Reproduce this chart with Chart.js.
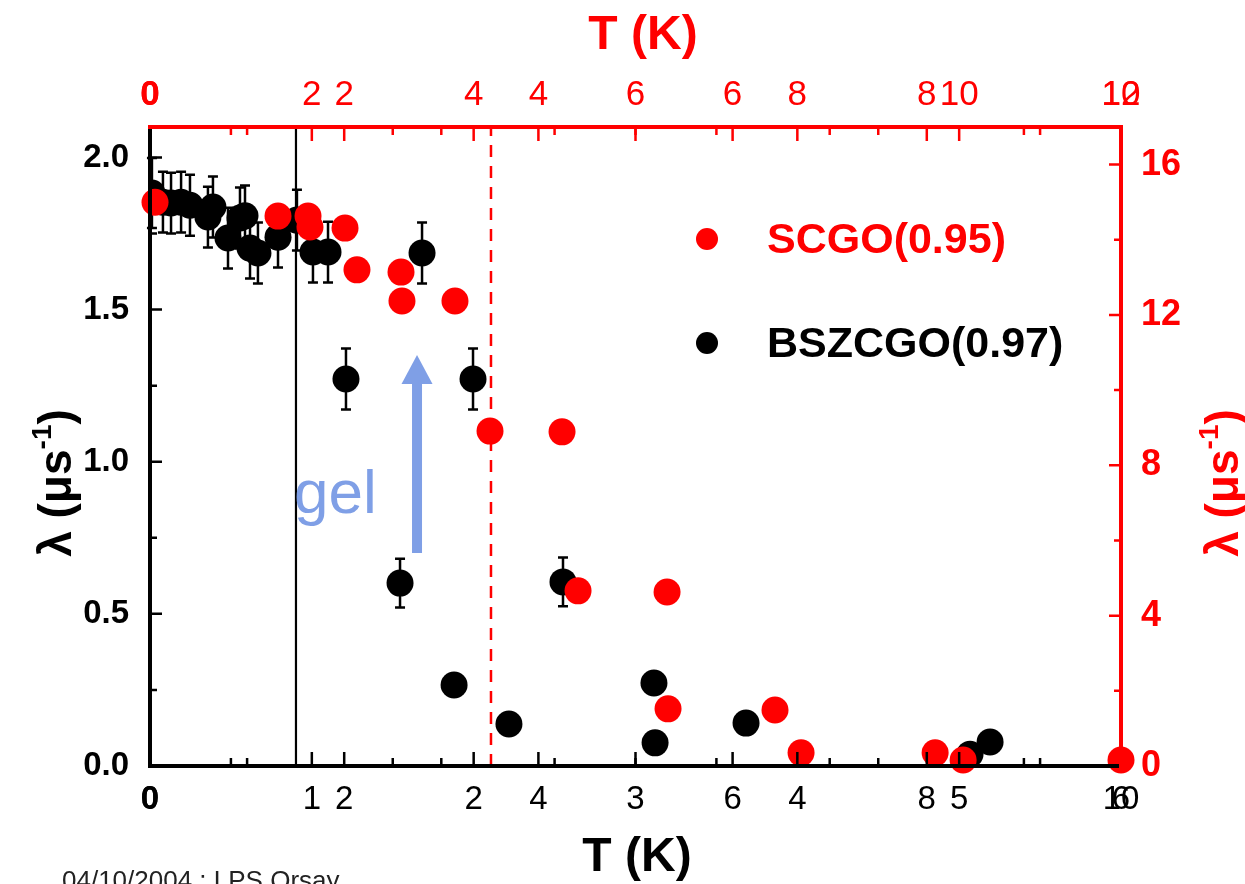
<!DOCTYPE html>
<html><head><meta charset="utf-8">
<script src="https://cdn.jsdelivr.net/npm/chart.js@4.4.1/dist/chart.umd.min.js"></script>
<style>html,body{margin:0;padding:0;background:#fff;overflow:hidden}#wrap{width:1245px;height:884px;position:relative}</style>
</head><body><div id="wrap"><canvas id="c" width="1245" height="884"></canvas></div>
<script>
const FONT = '"Liberation Sans", Arial, Helvetica, sans-serif';

// BSZCGO(0.97): T on the bottom axis (K), lambda on the left axis (us^-1)
const bszcgoT      = [0.012,0.080,0.130,0.192,0.247,0.358,0.389,0.482,0.556,0.587,0.618,0.667,0.791,0.908,1.007,1.100,1.211,1.545,1.681,1.879,1.996,2.218,2.552,3.114,3.121,3.683,5.067,5.191];
const bszcgoLambda = [1.883,1.853,1.850,1.853,1.843,1.804,1.837,1.735,1.801,1.808,1.702,1.686,1.738,1.794,1.689,1.689,1.272,0.601,1.686,0.266,1.272,0.138,0.605,0.273,0.076,0.141,0.039,0.079];
const bszcgoErr    = [0.115,0.10,0.10,0.10,0.10,0.10,0.10,0.10,0.10,0.10,0.10,0.10,0.10,0.10,0.10,0.10,0.10,0.08,0.10,0,0.10,0,0.08,0,0,0,0,0];

// SCGO(0.95): T on the top axis (K), lambda on the right axis (us^-1)
const scgoT      = [0.062,1.582,1.953,1.977,2.410,2.558,3.102,3.114,3.769,4.202,5.092,5.290,6.390,6.402,7.724,8.046,9.703,10.049,12.0];
const scgoLambda = [15.00,14.63,14.63,14.34,14.31,13.20,13.14,12.37,12.37,8.91,8.89,4.66,4.63,1.52,1.49,0.35,0.35,0.16,0.16];

// axis ticks (two overlapping tick sets on each T axis, as in the original)
const bottomTickValues = [0,0,1,1.2,2,2.4,3,3.6,4,4.8,5,6,6];
const bottomTickLabels = ['0','0','1','2','2','4','3','6','4','8','5','10','6'];
const bottomMinor      = [0.5,0.6,1.5,1.8,2.5,3.0,3.5,4.2,4.5,5.4,5.5];
const topTickValues    = [0,0,2,2.4,4,4.8,6,7.2,8,9.6,10,12,12];
const topTickLabels    = ['0','0','2','2','4','4','6','6','8','8','10','10','12'];
const topMinor         = [1,1.2,3,3.6,5,6,7,8.4,9,10.8,11];
const leftTickValues   = [0,0.5,1.0,1.5,2.0];
const leftMinor        = [0.25,0.75,1.25,1.75];
const rightTickValues  = [0,4,8,12,16];
const rightMinor       = [2,6,10,14];

// annotations (bottom-axis T / left-axis lambda)
const refLines = [0.902, 2.107];
const gelArrow = {t:1.65, from:0.70, to:1.351};

const RED = '#ff0000', BLUE = '#7f9fe6';

function mk(xs, ys){ return xs.map((x,i)=>({x:x, y:ys[i]})); }

const overlay = {
  id:'overlay',
  beforeDatasetsDraw(chart){
    const c = chart.ctx, sx = chart.scales.x, sy = chart.scales.y;
    c.save();
    c.strokeStyle = '#000'; c.lineWidth = 2.5;
    bszcgoT.forEach((t,i)=>{
      const e = bszcgoErr[i]; if(!e) return;
      const px = sx.getPixelForValue(t);
      const y1 = sy.getPixelForValue(bszcgoLambda[i]+e), y2 = sy.getPixelForValue(bszcgoLambda[i]-e);
      c.beginPath(); c.moveTo(px,y1); c.lineTo(px,y2);
      c.moveTo(px-5,y1); c.lineTo(px+5,y1); c.moveTo(px-5,y2); c.lineTo(px+5,y2); c.stroke();
    });
    const ax = sx.getPixelForValue(gelArrow.t), ay0 = sy.getPixelForValue(gelArrow.from), ay1 = sy.getPixelForValue(gelArrow.to);
    c.fillStyle = BLUE;
    c.fillRect(ax-5, ay1+29, 10, ay0-(ay1+29));
    c.beginPath(); c.moveTo(ax, ay1); c.lineTo(ax+15.5, ay1+29); c.lineTo(ax-15.5, ay1+29); c.closePath(); c.fill();
    c.restore();
  },
  afterDatasetsDraw(chart){
    const c = chart.ctx, a = chart.chartArea;
    const s = chart.scales;
    c.save();
    c.lineCap = 'butt';
    function vt(scale, vals, len, y0, dir, color){
      c.strokeStyle = color; c.lineWidth = 2.5; c.beginPath();
      vals.forEach(v=>{ const p = scale.getPixelForValue(v); c.moveTo(p,y0); c.lineTo(p,y0+dir*len); }); c.stroke();
    }
    function ht(scale, vals, len, x0, dir, color){
      c.strokeStyle = color; c.lineWidth = 2.5; c.beginPath();
      vals.forEach(v=>{ const p = scale.getPixelForValue(v); c.moveTo(x0,p); c.lineTo(x0+dir*len,p); }); c.stroke();
    }
    vt(s.x, bottomTickValues.filter(v=>v>0&&v<6), 14, a.bottom, -1, '#000');
    vt(s.x, bottomMinor, 8, a.bottom, -1, '#000');
    ht(s.y, leftTickValues.filter(v=>v>0), 12, a.left, 1, '#000');
    ht(s.y, leftMinor, 7, a.left, 1, '#000');
    vt(s.x2, topTickValues.filter(v=>v>0&&v<12), 14, a.top, 1, RED);
    vt(s.x2, topMinor, 8, a.top, 1, RED);
    ht(s.y2, rightTickValues.filter(v=>v>0), 12, a.right, -1, RED);
    ht(s.y2, rightMinor, 7, a.right, -1, RED);
    c.lineWidth = 4;
    c.strokeStyle = '#000';
    c.beginPath(); c.moveTo(a.left, a.top); c.lineTo(a.left, a.bottom); c.lineTo(a.right, a.bottom); c.stroke();
    c.strokeStyle = RED;
    c.beginPath(); c.moveTo(a.left-2, a.top); c.lineTo(a.right, a.top); c.lineTo(a.right, a.bottom+2); c.stroke();
    c.restore();
  },
  afterDraw(chart){
    const c = chart.ctx;
    c.save();
    c.textBaseline = 'middle'; c.textAlign = 'center';
    c.font = 'bold 48px ' + FONT;
    c.fillStyle = RED; c.fillText('T (K)', 643, 36);
    c.fillStyle = '#000'; c.fillText('T (K)', 637, 858);
    function ytitle(cx, cy, color){
      c.save(); c.translate(cx, cy); c.rotate(-Math.PI/2);
      c.fillStyle = color; c.textAlign = 'left'; c.textBaseline = 'alphabetic';
      const big = 'bold 46px ' + FONT, small = 'bold 28px ' + FONT;
      c.font = big; const w1 = c.measureText('\u03bb (\u03bcs').width, w3 = c.measureText(')').width;
      c.font = small; const w2 = c.measureText('-1').width;
      let x = -(w1+w2+w3)/2; const base = 16;
      c.font = big; c.fillText('\u03bb (\u03bcs', x, base); x += w1;
      c.font = small; c.fillText('-1', x, base-20); x += w2;
      c.font = big; c.fillText(')', x, base);
      c.restore();
    }
    ytitle(55, 483, '#000');
    ytitle(1222, 483, RED);
    c.textAlign = 'left'; c.textBaseline = 'middle'; c.font = 'bold 43px ' + FONT;
    c.fillStyle = RED; c.beginPath(); c.arc(707, 239, 11, 0, Math.PI*2); c.fill();
    c.fillText('SCGO(0.95)', 767, 241);
    c.fillStyle = '#000'; c.beginPath(); c.arc(707, 343, 11, 0, Math.PI*2); c.fill();
    c.fillText('BSZCGO(0.97)', 767, 345);
    c.textBaseline = 'alphabetic'; c.font = '62px ' + FONT; c.fillStyle = BLUE;
    c.fillText('gel', 294, 513);
    c.font = '26px ' + FONT; c.fillStyle = '#222';
    c.fillText('04/10/2004 : LPS Orsay', 62, 889);
    c.restore();
  }
};

const ctx = document.getElementById('c').getContext('2d');
new Chart(ctx, {
  type: 'scatter',
  data: { datasets: [
    { label:'SCGO(0.95)', data: mk(scgoT, scgoLambda), xAxisID:'x2', yAxisID:'y2',
      backgroundColor: RED, borderColor: RED, borderWidth:0, pointRadius:13.5, pointHoverRadius:13.5, order:0, clip:false },
    { label:'BSZCGO(0.97)', data: mk(bszcgoT, bszcgoLambda), xAxisID:'x', yAxisID:'y',
      backgroundColor:'#000', borderColor:'#000', borderWidth:0, pointRadius:13.5, pointHoverRadius:13.5, order:1 },
    { type:'line', label:'ref1', data:[{x:refLines[0],y:0},{x:refLines[0],y:2.1}], xAxisID:'x', yAxisID:'y',
      borderColor:'#000', borderWidth:2.2, pointRadius:0, order:3 },
    { type:'line', label:'ref2', data:[{x:refLines[1],y:0},{x:refLines[1],y:2.1}], xAxisID:'x', yAxisID:'y',
      borderColor:RED, borderWidth:2.5, borderDash:[12,9], pointRadius:0, order:3 }
  ]},
  options: {
    responsive:false, animation:false, devicePixelRatio:1,
    layout:{padding:0},
    plugins:{ legend:{display:false}, tooltip:{enabled:false} },
    scales: {
      x: { type:'linear', position:'bottom', min:0, max:6,
        grid:{display:false}, border:{display:false},
        afterBuildTicks: s => { s.ticks = bottomTickValues.map(v=>({value:v})); },
        afterFit: s => { s.height = 118; },
        ticks:{ autoSkip:false, maxRotation:0, minRotation:0, padding:6, color:'#000',
          font: cx => ({family:FONT, size:33, weight: cx.index<=1 ? 'bold':'normal'}),
          callback:(v,i)=>bottomTickLabels[i] } },
      x2: { type:'linear', position:'top', min:0, max:12,
        grid:{display:false}, border:{display:false},
        afterBuildTicks: s => { s.ticks = topTickValues.map(v=>({value:v})); },
        afterFit: s => { s.height = 127; },
        ticks:{ autoSkip:false, maxRotation:0, minRotation:0, padding:3, color:RED,
          font: cx => ({family:FONT, size:35, weight: cx.index<=1 ? 'bold':'normal'}),
          callback:(v,i)=>topTickLabels[i] } },
      y: { type:'linear', position:'left', min:0, max:2.1,
        grid:{display:false}, border:{display:false},
        afterBuildTicks: s => { s.ticks = leftTickValues.map(v=>({value:v})); },
        afterFit: s => { s.width = 150; },
        ticks:{ padding:13, color:'#000', font:{family:FONT, size:33, weight:'bold'},
          callback:v=>Number(v).toFixed(1) } },
      y2: { type:'linear', position:'right', min:0, max:17,
        grid:{display:false}, border:{display:false},
        afterBuildTicks: s => { s.ticks = rightTickValues.map(v=>({value:v})); },
        afterFit: s => { s.width = 124; },
        ticks:{ padding:12, color:RED, font:{family:FONT, size:36, weight:'bold'},
          callback:v=>String(v) } }
    }
  },
  plugins:[overlay]
});
</script></body></html>
